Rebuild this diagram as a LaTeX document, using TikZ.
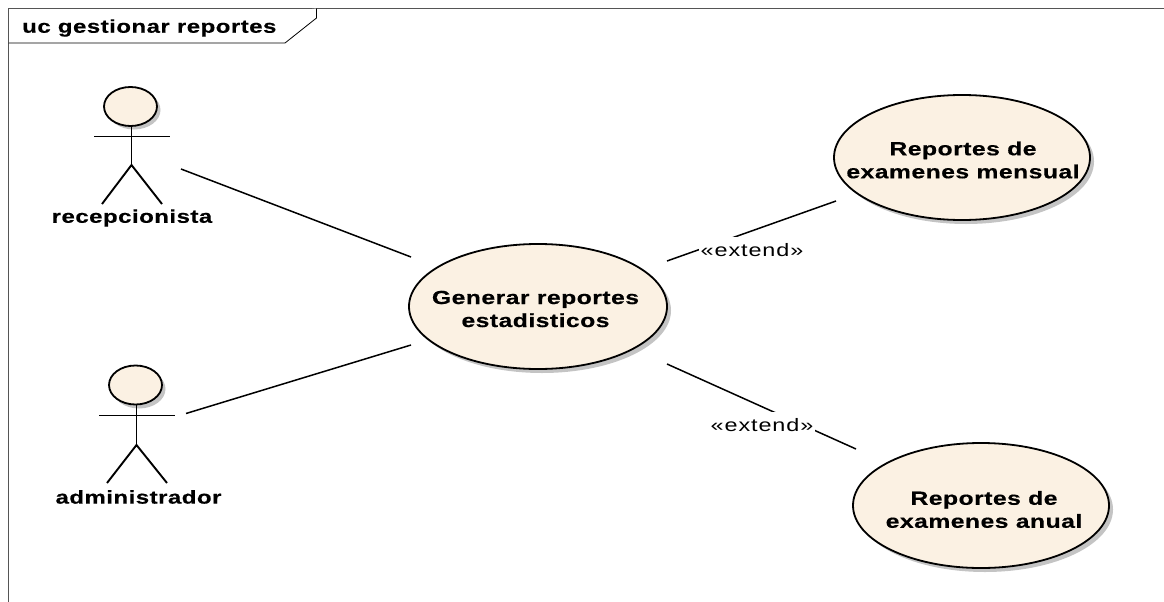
\documentclass[tikz,border=0pt]{standalone}
\usepackage{fontspec}
\setmainfont{Liberation Sans}
\newfontfamily\widebold[FakeStretch=1.3,LetterSpace=2.5,FakeBold=0.4]{Liberation Sans Bold}
\newfontfamily\widereg[FakeStretch=1.3,LetterSpace=5]{Liberation Sans}
\usetikzlibrary{shapes.geometric}
\definecolor{ucfill}{HTML}{FBF1E3}
\definecolor{ucshadow}{HTML}{C4C4C4}
\definecolor{framecol}{HTML}{555555}
\tikzset{
  uctext/.style={font=\widebold\fontsize{19}{23}\selectfont,text=black,align=center,inner sep=0pt},
  smalltext/.style={uctext,font=\widebold\fontsize{18.5}{23}\selectfont},
  usecase/.style={ellipse,draw=black,line width=1.8pt,fill=ucfill,inner sep=0pt},
  shadowshape/.style={ellipse,fill=ucshadow,inner sep=0pt},
  head/.style={ellipse,draw=black,line width=1.8pt,fill=ucfill,inner sep=0pt,minimum width=53pt,minimum height=39pt},
  limb/.style={draw=black,line width=1.9pt},
  arm/.style={draw=black,line width=1.2pt},
  assoc/.style={draw=black,line width=1.5pt},
  extlabel/.style={font=\widereg\fontsize{18}{20}\selectfont,text=black,fill=white,inner sep=0pt,minimum width=106pt,minimum height=27pt},
  framepath/.style={draw=framecol,line width=1.4pt},
  tabpath/.style={draw=black,line width=0.8pt,fill=white}
}
\begin{document}
\begin{tikzpicture}[x=1pt,y=-1pt]
\useasboundingbox (0,0) rectangle (1164,602);
% frame
\draw[framepath] (8.5,602) -- (8.5,8.5) -- (1164,8.5);
\draw[tabpath] (8.5,43) -- (285,43) -- (316.5,18) -- (316.5,8.5);
\node[smalltext,anchor=west] (title) at (22,28) {uc gestionar reportes};
% connector end points
\coordinate (a1) at (181,169);
\coordinate (a2) at (411,257);
\coordinate (b1) at (186,413.5);
\coordinate (b2) at (411,345);
\coordinate (c1) at (667,261);
\coordinate (c2) at (836,201);
\coordinate (d1) at (667,364);
\coordinate (d2) at (856,449);
\draw[assoc] (a1) -- (a2);
\draw[assoc] (b1) -- (b2);
\draw[assoc] (c1) -- (c2);
\draw[assoc] (d1) -- (d2);
\node[extlabel] (e1) at (752,250) {«extend»};
\node[extlabel] (e2) at (762,425) {«extend»};
% use cases
\node[shadowshape,minimum width=258pt,minimum height=125pt] at (542,310.5) {};
\node[shadowshape,minimum width=256pt,minimum height=125pt] at (966,161.5) {};
\node[shadowshape,minimum width=256pt,minimum height=125pt] at (985,509.5) {};
\node[usecase,minimum width=258pt,minimum height=125pt] (gen) at (538,306.5) {};
\node[usecase,minimum width=256pt,minimum height=125pt] (men) at (962,157.5) {};
\node[usecase,minimum width=256pt,minimum height=125pt] (anu) at (981,505.5) {};
\node[uctext] (gent) at (535.5,309) {Generar reportes\\estadisticos};
\node[uctext] (ment) at (963,160) {Reportes de\\examenes mensual};
\node[uctext] (anut) at (984,509.5) {Reportes de\\examenes anual};
% actor 1
\node[shadowshape,minimum width=53pt,minimum height=39pt] at (134,110) {};
\node[head] (h1) at (130.5,106.5) {};
\coordinate (n1) at (131.5,126);
\coordinate (w1) at (131.5,165);
\coordinate (la1) at (94,136.5);
\coordinate (ra1) at (170,136.5);
\coordinate (lf1) at (102,204);
\coordinate (rf1) at (162,204);
\draw[limb] (n1) -- (w1);
\draw[arm] (la1) -- (ra1);
\draw[limb] (lf1) -- (w1) -- (rf1);
\node[smalltext] (l1) at (132,218) {recepcionista};
% actor 2
\node[shadowshape,minimum width=53pt,minimum height=39pt] at (139,389) {};
\node[head] (h2) at (135.5,385) {};
\coordinate (n2) at (136.5,404.5);
\coordinate (w2) at (136.5,445);
\coordinate (la2) at (99,415.5);
\coordinate (ra2) at (175,415.5);
\coordinate (lf2) at (107,483);
\coordinate (rf2) at (167,483);
\draw[limb] (n2) -- (w2);
\draw[arm] (la2) -- (ra2);
\draw[limb] (lf2) -- (w2) -- (rf2);
\node[smalltext] (l2) at (138.5,497) {administrador};
\end{tikzpicture}
\end{document}
